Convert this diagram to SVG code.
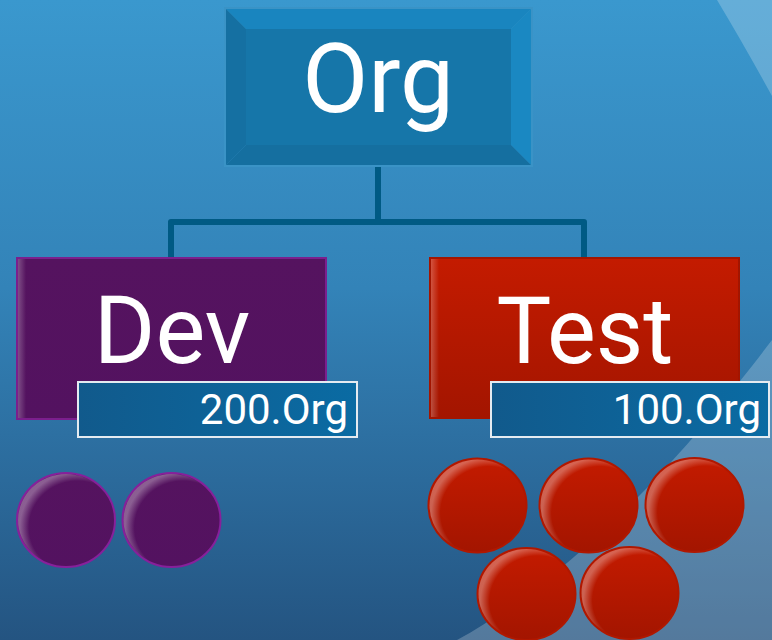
<svg xmlns="http://www.w3.org/2000/svg" width="772" height="640" viewBox="0 0 772 640">
  <defs>
    <linearGradient id="bg" x1="0" y1="0" x2="0" y2="1">
      <stop offset="0" stop-color="#3a98ce"/>
      <stop offset="0.45" stop-color="#3383b8"/>
      <stop offset="0.75" stop-color="#2b6a9b"/>
      <stop offset="1" stop-color="#245481"/>
    </linearGradient>
    <linearGradient id="redFill" x1="0" y1="0" x2="0" y2="1">
      <stop offset="0" stop-color="#c41b00"/>
      <stop offset="1" stop-color="#a31500"/>
    </linearGradient>
    <linearGradient id="purpleFill" x1="0" y1="0" x2="0" y2="1">
      <stop offset="0" stop-color="#55135f"/>
      <stop offset="1" stop-color="#531260"/>
    </linearGradient>
    <linearGradient id="edgeStrip" x1="0" y1="0" x2="1" y2="0">
      <stop offset="0" stop-color="#ffffff" stop-opacity="0.25"/>
      <stop offset="1" stop-color="#ffffff" stop-opacity="0"/>
    </linearGradient>
    <linearGradient id="labelFill" x1="0" y1="0" x2="1" y2="0">
      <stop offset="0" stop-color="#115a8c"/>
      <stop offset="1" stop-color="#0a6ba3"/>
    </linearGradient>
    <radialGradient id="rim" cx="0.62" cy="0.58" r="0.6">
      <stop offset="0" stop-color="#ffffff" stop-opacity="0"/>
      <stop offset="0.84" stop-color="#ffffff" stop-opacity="0"/>
      <stop offset="1" stop-color="#ffffff" stop-opacity="0.32"/>
    </radialGradient>
    <style>
      .conn { fill: none; stroke: #005a84; stroke-width: 6; stroke-linejoin: round; }
      .big { font-family: "Segoe UI", Roboto, "Liberation Sans", sans-serif; fill: #ffffff; text-anchor: middle; }
      .lbl { font-family: "Segoe UI", Roboto, "Liberation Sans", sans-serif; fill: #ffffff; font-size: 42px; text-anchor: end; }
      .lblbox { fill: url(#labelFill); stroke: #e4ebf1; stroke-width: 2; }
      .pc { fill: url(#purpleFill); stroke: #87209b; stroke-width: 2; }
      .rc { fill: url(#redFill); stroke: #b01800; stroke-width: 2; }
      .rim { fill: url(#rim); stroke: none; }
    </style>
  </defs>

  <!-- background -->
  <rect x="0" y="0" width="772" height="640" fill="url(#bg)"/>
  <path d="M717,0 Q744,45 772,96 L772,0 Z" fill="#ffffff" fill-opacity="0.22"/>
  <path d="M772,340 C714,416 598,562 457,640 L772,640 Z" fill="#ffffff" fill-opacity="0.22"/>

  <!-- connectors -->
  <g id="connectors">
    <path class="conn" d="M378,167 L378,222"/>
    <path class="conn" d="M171,258 L171,222 L584,222 L584,258"/>
  </g>

  <!-- Org node -->
  <g id="org">
    <rect x="224" y="7" width="309" height="160" fill="#3a93c6"/>
    <polygon points="226,9 531,9 511,29 246,29" fill="#1985bf"/>
    <polygon points="226,9 246,29 246,145 226,165" fill="#1570a2"/>
    <polygon points="531,9 531,165 511,145 511,29" fill="#1a88c2"/>
    <polygon points="226,165 246,145 511,145 531,165" fill="#156fa0"/>
    <rect x="246" y="29" width="265" height="116" fill="#1676a9"/>
    <text class="big" x="378" y="112" font-size="96">Org</text>
  </g>

  <!-- Dev node -->
  <g id="dev">
    <rect x="17" y="258" width="309" height="161" fill="url(#purpleFill)" stroke="#7b1f8d" stroke-width="2"/>
    <rect x="18" y="259" width="8" height="159" fill="url(#edgeStrip)"/>
    <text class="big" x="172" y="363" font-size="94">Dev</text>
  </g>
  <g id="dev-label">
    <rect class="lblbox" x="78" y="382" width="279" height="55"/>
    <text class="lbl" x="348" y="424">200.Org</text>
  </g>

  <!-- Test node -->
  <g id="test">
    <rect x="430" y="258" width="309" height="160" fill="url(#redFill)" stroke="#a31500" stroke-width="2"/>
    <rect x="431" y="259" width="8" height="158" fill="url(#edgeStrip)"/>
    <text class="big" x="585" y="363" font-size="92">Test</text>
  </g>
  <g id="test-label">
    <rect class="lblbox" x="491" y="382" width="278" height="55"/>
    <text class="lbl" x="761" y="424">100.Org</text>
  </g>

  <!-- Dev members -->
  <g id="dev-members">
    <ellipse class="pc" cx="66" cy="520" rx="49" ry="47"/>
    <ellipse class="rim" cx="66" cy="520" rx="48" ry="46"/>
    <ellipse class="pc" cx="171.5" cy="520" rx="49" ry="47"/>
    <ellipse class="rim" cx="171.5" cy="520" rx="48" ry="46"/>
  </g>

  <!-- Test members -->
  <g id="test-members">
    <ellipse class="rc" cx="477.5" cy="505.5" rx="49" ry="47"/>
    <ellipse class="rim" cx="477.5" cy="505.5" rx="48" ry="46"/>
    <ellipse class="rc" cx="588.5" cy="505.5" rx="49" ry="47"/>
    <ellipse class="rim" cx="588.5" cy="505.5" rx="48" ry="46"/>
    <ellipse class="rc" cx="694.5" cy="505" rx="49" ry="47"/>
    <ellipse class="rim" cx="694.5" cy="505" rx="48" ry="46"/>
    <ellipse class="rc" cx="526.5" cy="594" rx="49" ry="46"/>
    <ellipse class="rim" cx="526.5" cy="594" rx="48" ry="45"/>
    <ellipse class="rc" cx="629.5" cy="593" rx="49" ry="46"/>
    <ellipse class="rim" cx="629.5" cy="593" rx="48" ry="45"/>
  </g>
</svg>
